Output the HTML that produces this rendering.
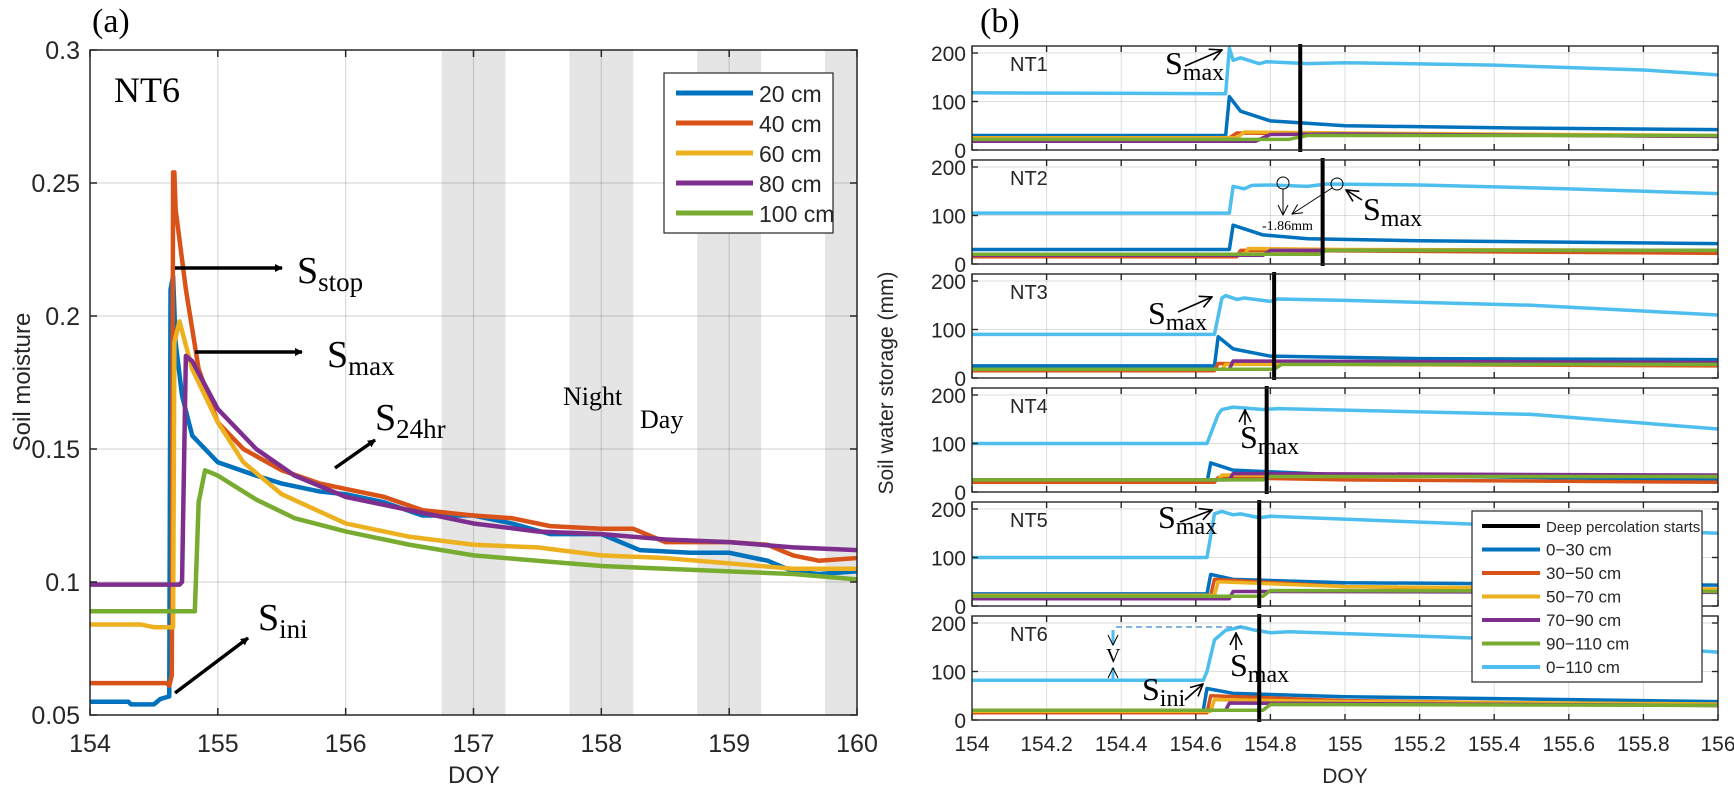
<!DOCTYPE html>
<html><head><meta charset="utf-8"><style>
body{margin:0;background:#fff}
svg{display:block}
text{font-family:"Liberation Sans",sans-serif;fill:#262626}
.serif{font-family:"Liberation Serif",serif;fill:#000}
</style></head><body>
<svg id="fig" width="1734" height="786" viewBox="0 0 1734 786" xmlns="http://www.w3.org/2000/svg">
<defs><marker id="ah" markerWidth="8" markerHeight="8" refX="7" refY="4" orient="auto" markerUnits="userSpaceOnUse"><path d="M0,0 L8,4 L0,8 z" fill="#000"/></marker>
<marker id="ao" markerWidth="14" markerHeight="14" refX="13" refY="7" orient="auto" markerUnits="userSpaceOnUse"><path d="M1,1 L13,7 L1,13" fill="none" stroke="#000" stroke-width="1.6"/></marker>
<marker id="at" markerWidth="12" markerHeight="12" refX="11" refY="6" orient="auto" markerUnits="userSpaceOnUse"><path d="M1,1 L11,6 L1,11" fill="none" stroke="#000" stroke-width="1"/></marker></defs>
<g id="pa"></g>
<g id="pb"></g>
</svg>
<script>
// ---------- Panel (a) data ----------
const aTicksX=[154,155,156,157,158,159,160];
const aTicksY=[0.05,0.1,0.15,0.2,0.25,0.3];
const nightBands=[[156.75,157.25],[157.75,158.25],[158.75,159.25],[159.75,160]];
const aNames=["20 cm","40 cm","60 cm","80 cm","100 cm"];
const s20=[[154,0.055],[154.3,0.055],[154.32,0.054],[154.5,0.054],[154.55,0.056],[154.62,0.057],[154.63,0.21],[154.65,0.215],[154.67,0.19],[154.72,0.17],[154.8,0.155],[155,0.145],[155.3,0.14],[155.5,0.137],[155.8,0.134],[156,0.133],[156.3,0.13],[156.6,0.125],[157,0.125],[157.3,0.122],[157.6,0.118],[158,0.118],[158.3,0.112],[158.7,0.111],[159,0.111],[159.3,0.108],[159.5,0.104],[159.7,0.103],[160,0.104]];
const s40=[[154,0.062],[154.6,0.062],[154.62,0.061],[154.64,0.065],[154.65,0.254],[154.66,0.254],[154.67,0.24],[154.75,0.21],[154.85,0.18],[155,0.16],[155.2,0.15],[155.5,0.142],[155.8,0.137],[156,0.135],[156.3,0.132],[156.6,0.127],[157,0.125],[157.3,0.124],[157.6,0.121],[158,0.12],[158.25,0.12],[158.5,0.115],[159,0.115],[159.3,0.114],[159.5,0.11],[159.7,0.108],[160,0.109]];
const s60=[[154,0.084],[154.4,0.084],[154.5,0.083],[154.65,0.083],[154.66,0.19],[154.7,0.198],[154.8,0.18],[155,0.16],[155.2,0.145],[155.5,0.133],[156,0.122],[156.5,0.117],[157,0.114],[157.5,0.113],[158,0.11],[158.5,0.109],[159,0.107],[159.5,0.105],[160,0.105]];
const s80=[[154,0.099],[154.7,0.099],[154.72,0.1],[154.75,0.185],[154.8,0.183],[155,0.165],[155.3,0.15],[155.6,0.14],[156,0.132],[156.5,0.127],[157,0.122],[157.5,0.119],[158,0.118],[158.5,0.116],[159,0.115],[159.5,0.113],[160,0.112]];
const s100=[[154,0.089],[154.82,0.089],[154.85,0.13],[154.9,0.142],[155,0.14],[155.3,0.131],[155.6,0.124],[156,0.119],[156.5,0.114],[157,0.11],[157.5,0.108],[158,0.106],[158.5,0.105],[159,0.104],[159.5,0.103],[160,0.101]];

// ---------- Panel (b) data ----------
const bTicksX=[154,154.2,154.4,154.6,154.8,155,155.2,155.4,155.6,155.8,156];
const bTicksY=[0,100,200];
const plots=["NT1","NT2","NT3","NT4","NT5","NT6"];
const deepPerc=[154.88,154.94,154.81,154.79,154.77,154.77];
const bNames=["0\u221230 cm","30\u221250 cm","50\u221270 cm","70\u221290 cm","90\u2212110 cm","0\u2212110 cm"];
const nt1=[
 [[154,30],[154.68,30],[154.69,110],[154.72,80],[154.8,60],[155,50],[155.5,45],[156,42]],
 [[154,25],[154.69,25],[154.71,35],[155,33],[156,28]],
 [[154,25],[154.71,25],[154.73,37],[155,35],[156,30]],
 [[154,18],[154.76,18],[154.8,32],[155,33],[156,28]],
 [[154,22],[154.85,22],[154.9,30],[156,30]],
 [[154,118],[154.68,116],[154.69,210],[154.7,185],[154.72,190],[154.77,178],[154.79,182],[154.9,178],[155,180],[155.4,175],[155.8,165],[156,155]]];
const nt2=[
 [[154,30],[154.69,30],[154.7,80],[154.78,60],[154.9,52],[155.2,48],[156,42]],
 [[154,15],[154.71,15],[154.72,28],[155,27],[156,22]],
 [[154,18],[154.73,18],[154.74,32],[155,30],[156,28]],
 [[154,18],[154.78,18],[154.8,28],[156,28]],
 [[154,20],[154.93,20],[154.95,28],[156,28]],
 [[154,105],[154.69,105],[154.7,160],[154.73,155],[154.75,162],[154.8,163],[154.9,160],[154.95,165],[155.2,163],[155.6,155],[156,145]]];
const nt3=[
 [[154,25],[154.65,25],[154.66,85],[154.7,60],[154.8,45],[155.2,40],[156,38]],
 [[154,15],[154.65,15],[154.66,30],[155,28],[156,25]],
 [[154,18],[154.67,18],[154.68,28],[156,28]],
 [[154,18],[154.69,18],[154.7,35],[156,32]],
 [[154,18],[154.81,18],[154.83,28],[156,28]],
 [[154,90],[154.65,90],[154.67,165],[154.68,170],[154.71,162],[154.73,165],[154.8,158],[154.82,163],[155,160],[155.5,150],[156,130]]];
const nt4=[
 [[154,20],[154.63,20],[154.64,60],[154.7,45],[155,35],[156,25]],
 [[154,20],[154.65,20],[154.66,30],[155,25],[156,20]],
 [[154,25],[154.66,25],[154.67,35],[156,32]],
 [[154,25],[154.69,25],[154.7,38],[156,35]],
 [[154,25],[154.78,25],[154.8,32],[156,32]],
 [[154,100],[154.63,100],[154.66,160],[154.67,170],[154.7,175],[154.78,170],[154.82,172],[155.5,160],[156,130]]];
const nt5=[
 [[154,25],[154.63,25],[154.64,65],[154.7,55],[155,48],[156,43]],
 [[154,22],[154.64,22],[154.65,55],[155,40],[156,30]],
 [[154,22],[154.65,22],[154.66,50],[155,40],[156,35]],
 [[154,15],[154.69,15],[154.7,30],[156,28]],
 [[154,20],[154.78,20],[154.8,32],[156,30]],
 [[154,100],[154.63,100],[154.65,190],[154.67,195],[154.7,188],[154.72,190],[154.77,182],[154.8,185],[155.3,170],[156,150]]];
const nt6=[
 [[154,20],[154.62,20],[154.63,65],[154.7,55],[155,48],[156,38]],
 [[154,15],[154.63,15],[154.64,50],[155,40],[156,30]],
 [[154,18],[154.64,18],[154.65,42],[155,38],[156,33]],
 [[154,20],[154.68,20],[154.69,35],[156,30]],
 [[154,20],[154.78,20],[154.8,32],[156,30]],
 [[154,82],[154.62,82],[154.63,100],[154.65,165],[154.68,185],[154.7,188],[154.72,192],[154.76,185],[154.8,180],[154.85,182],[155.5,165],[156,140]]];
const ntData=[nt1,nt2,nt3,nt4,nt5,nt6];

const colsA=["#0072BD","#D95319","#EDB120","#7E2F8E","#77AC30"];
const colsB=["#0072BD","#D95319","#EDB120","#7E2F8E","#77AC30","#4DBEEE"];
const NS="http://www.w3.org/2000/svg";
function mk(parent,tag,attrs,txt){const e=document.createElementNS(NS,tag);for(const k in attrs)e.setAttribute(k,attrs[k]);if(txt!==undefined)e.textContent=txt;parent.appendChild(e);return e;}

// ---------- Panel a ----------
const pa=document.getElementById('pa');
const AL=90,AR=857,AT=50,AB=715;
const xa=d=>AL+(d-154)*(AR-AL)/6;
const ya=v=>AT+(0.3-v)*(AB-AT)/0.25;
nightBands.forEach(b=>{const r=mk(pa,'rect',{x:xa(b[0]),y:AT,width:xa(b[1])-xa(b[0]),height:AB-AT,fill:'#e5e5e5'});

});
aTicksX.slice(1,-1).forEach(t=>{const l=mk(pa,'line',{x1:xa(t),x2:xa(t),y1:AT,y2:AB,stroke:'#000','stroke-opacity':0.15,'stroke-width':1.2});

});
aTicksY.slice(1,-1).forEach(t=>{const l=mk(pa,'line',{x1:AL,x2:AR,y1:ya(t),y2:ya(t),stroke:'#000','stroke-opacity':0.15,'stroke-width':1.2});

});
[s20,s40,s60,s80,s100].forEach((s,i)=>{const p=mk(pa,'polyline',{points:s.map(q=>xa(q[0])+','+ya(q[1])).join(' '),fill:'none',stroke:colsA[i],'stroke-width':4.5,'stroke-linejoin':'round'});

});
mk(pa,'rect',{x:AL,y:AT,width:AR-AL,height:AB-AT,fill:'none',stroke:'#262626','stroke-width':1.5});
aTicksX.forEach(t=>{mk(pa,'line',{x1:xa(t),x2:xa(t),y1:AB,y2:AB-7,stroke:'#262626','stroke-width':1.5});mk(pa,'line',{x1:xa(t),x2:xa(t),y1:AT,y2:AT+7,stroke:'#262626','stroke-width':1.5});
const tx=mk(pa,'text',{x:xa(t),y:752,'font-size':25,'text-anchor':'middle'},String(t));

});
aTicksY.forEach(t=>{mk(pa,'line',{x1:AL,x2:AL+7,y1:ya(t),y2:ya(t),stroke:'#262626','stroke-width':1.5});mk(pa,'line',{x1:AR,x2:AR-7,y1:ya(t),y2:ya(t),stroke:'#262626','stroke-width':1.5});
const tx=mk(pa,'text',{x:80,y:ya(t)+9,'font-size':25,'text-anchor':'end'},String(t));

});
// legend a
const lg=mk(pa,'g',{});


mk(lg,'rect',{x:664,y:73,width:169,height:160,fill:'#fff',stroke:'#262626','stroke-width':1.2});
aNames.forEach((n,i)=>{const y=93+i*30;mk(lg,'line',{x1:676,x2:753,y1:y,y2:y,stroke:colsA[i],'stroke-width':5});
const tx=mk(lg,'text',{x:759,y:y+9,'font-size':23},n);

});

// ---------- Panel b ----------
const pb=document.getElementById('pb');
const BL=972,BR=1718;
const xb=d=>BL+(d-154)*(BR-BL)/2;
const top_=i=>46+114*i, bot=i=>150+114*i;
const yb=(i,v)=>bot(i)-v*0.485;
plots.forEach((nm,i)=>{
 const g=mk(pb,'g',{});
 
 
 bTicksX.slice(1,-1).forEach(t=>mk(g,'line',{x1:xb(t),x2:xb(t),y1:top_(i),y2:bot(i),stroke:'#000','stroke-opacity':0.13,'stroke-width':1}));
 [100,200].forEach(t=>mk(g,'line',{x1:BL,x2:BR,y1:yb(i,t),y2:yb(i,t),stroke:'#000','stroke-opacity':0.13,'stroke-width':1}));
 ntData[i].forEach((s,k)=>{const p=mk(g,'polyline',{points:s.map(q=>xb(q[0])+','+yb(i,q[1])).join(' '),fill:'none',stroke:colsB[k],'stroke-width':3.5,'stroke-linejoin':'round'});
 
 });
 const dl=mk(g,'line',{x1:xb(deepPerc[i]),x2:xb(deepPerc[i]),y1:top_(i)-2,y2:bot(i)+2,stroke:'#000','stroke-width':4});
 
 
 mk(g,'rect',{x:BL,y:top_(i),width:BR-BL,height:104,fill:'none',stroke:'#262626','stroke-width':1.4});
 bTicksX.forEach(t=>{mk(g,'line',{x1:xb(t),x2:xb(t),y1:bot(i),y2:bot(i)-6,stroke:'#262626','stroke-width':1.4});mk(g,'line',{x1:xb(t),x2:xb(t),y1:top_(i),y2:top_(i)+6,stroke:'#262626','stroke-width':1.4});});
 bTicksY.forEach(t=>{mk(g,'line',{x1:BL,x2:BL+6,y1:yb(i,t),y2:yb(i,t),stroke:'#262626','stroke-width':1.4});mk(g,'line',{x1:BR,x2:BR-6,y1:yb(i,t),y2:yb(i,t),stroke:'#262626','stroke-width':1.4});
  const tx=mk(g,'text',{x:966,y:yb(i,t)+8,'font-size':21,'text-anchor':'end'},String(t));
  
  });
 const lb=mk(g,'text',{x:1010,y:top_(i)+25,'font-size':20,fill:'#000'},nm);
 
 
});
bTicksX.forEach(t=>{const tx=mk(pb,'text',{x:xb(t),y:751,'font-size':21,'text-anchor':'middle'},String(t));

});
const lgb=mk(pb,'g',{});


mk(lgb,'rect',{x:1472,y:511,width:230,height:171,fill:'#fff',stroke:'#262626','stroke-width':1.2});
const lbNames=["Deep percolation starts"].concat(bNames), lbCols=["#000"].concat(colsB);
lbNames.forEach((n,i)=>{const y=526+i*23.5;mk(lgb,'line',{x1:1482,x2:1540,y1:y,y2:y,stroke:lbCols[i],'stroke-width':4});
const tx=mk(lgb,'text',{x:1546,y:y+6,'font-size':i==0?15:17},n);

});
</script>
<svg width="0" height="0"></svg>
<script>
// static annotations
const F=document.getElementById('fig');
F.insertAdjacentHTML('beforeend',`
<text class="serif" x="92" y="32" font-size="34">(a)</text>
<text class="serif" x="980" y="32" font-size="34">(b)</text>
<text class="serif" x="114" y="102" font-size="36">NT6</text>
<text x="30" y="382" font-size="24" text-anchor="middle" transform="rotate(-90 30 382)">Soil moisture</text>
<text x="474" y="783" font-size="24" text-anchor="middle">DOY</text>
<text x="1345" y="783" font-size="21" text-anchor="middle">DOY</text>
<text x="893" y="383" font-size="21" text-anchor="middle" transform="rotate(-90 893 383)">Soil water storage (mm)</text>
<g stroke="#000" stroke-width="3.5">
<line x1="175" y1="268" x2="282" y2="268" marker-end="url(#ah)"/>
<line x1="195" y1="352" x2="302" y2="352" marker-end="url(#ah)"/>
<line x1="335" y1="468" x2="375" y2="440" marker-end="url(#ah)"/>
<line x1="175" y1="693" x2="248" y2="638" marker-end="url(#ah)"/>
</g>
<text class="serif" x="297" y="283" font-size="38">S<tspan font-size="27" dy="8">stop</tspan></text>
<text class="serif" x="327" y="367" font-size="38">S<tspan font-size="27" dy="8">max</tspan></text>
<text class="serif" x="375" y="430" font-size="38">S<tspan font-size="27" dy="8">24hr</tspan></text>
<text class="serif" x="258" y="630" font-size="38">S<tspan font-size="27" dy="8">ini</tspan></text>
<text class="serif" x="563" y="405" font-size="26">Night</text>
<text class="serif" x="640" y="428" font-size="26">Day</text>
<g fill="none" stroke="#000" stroke-width="1.6">
<line x1="1185" y1="66" x2="1222" y2="50" marker-end="url(#ao)"/>
<line x1="1178" y1="312" x2="1212" y2="297" marker-end="url(#ao)"/>
<line x1="1245" y1="425" x2="1245" y2="410" marker-end="url(#ao)"/>
<line x1="1180" y1="522" x2="1212" y2="510" marker-end="url(#ao)"/>
<line x1="1185" y1="700" x2="1203" y2="684" marker-end="url(#ao)"/>
<line x1="1236" y1="650" x2="1236" y2="633" marker-end="url(#ao)"/>
<line x1="1362" y1="200" x2="1346" y2="190" marker-end="url(#ao)"/>
<circle cx="1283" cy="183" r="6" stroke-width="1"/>
<circle cx="1337" cy="184" r="6" stroke-width="1"/>
<line x1="1283" y1="189" x2="1283" y2="215" stroke-width="1" marker-end="url(#at)"/>
<line x1="1332" y1="188" x2="1292" y2="214" stroke-width="1" marker-end="url(#at)"/>
<line x1="1116" y1="627" x2="1247" y2="627" stroke="#5b9bd5" stroke-width="1.4" stroke-dasharray="6,4"/>
<line x1="1113" y1="630" x2="1113" y2="645" stroke="#4DBEEE" stroke-width="3" marker-end="url(#at)"/>
<line x1="1113" y1="682" x2="1113" y2="668" stroke="#4DBEEE" stroke-width="3" marker-end="url(#at)"/>
</g>
<text class="serif" x="1262" y="230" font-size="14">-1.86mm</text>
<text class="serif" x="1106" y="662" font-size="20">V</text>
<text class="serif" x="1165" y="74" font-size="32">S<tspan font-size="24" dy="6">max</tspan></text>
<text class="serif" x="1363" y="220" font-size="32">S<tspan font-size="24" dy="6">max</tspan></text>
<text class="serif" x="1148" y="324" font-size="32">S<tspan font-size="24" dy="6">max</tspan></text>
<text class="serif" x="1240" y="448" font-size="32">S<tspan font-size="24" dy="6">max</tspan></text>
<text class="serif" x="1158" y="528" font-size="32">S<tspan font-size="24" dy="6">max</tspan></text>
<text class="serif" x="1230" y="676" font-size="32">S<tspan font-size="24" dy="6">max</tspan></text>
<text class="serif" x="1142" y="700" font-size="32">S<tspan font-size="24" dy="6">ini</tspan></text>
`);
</script>
</body></html>
